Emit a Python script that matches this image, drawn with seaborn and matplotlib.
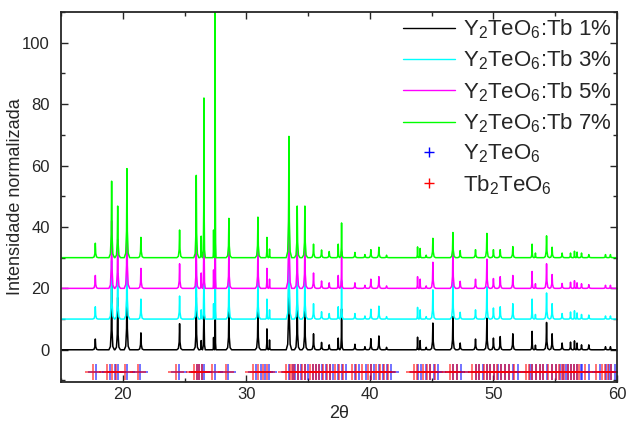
import numpy as np
import pandas as pd
import matplotlib
matplotlib.use("Agg")
import matplotlib.pyplot as plt
from matplotlib.lines import Line2D
from matplotlib.ticker import MultipleLocator
import seaborn as sns

# posiciones de los picos (2θ)
peak_pos = [17.78, 19.10, 19.59, 20.34, 21.47, 24.60, 25.95, 26.35, 26.57, 27.35,
            27.48, 28.59, 30.94, 31.67, 31.88, 33.45, 34.12, 34.74, 35.44, 36.09,
            36.71, 37.44, 37.71, 38.79, 39.60, 40.08, 40.73, 41.35, 43.86, 44.07,
            44.56, 45.10, 46.72, 47.31, 48.55, 49.47, 50.00, 50.55, 51.57, 53.13,
            53.40, 54.30, 54.75, 55.56, 56.24, 56.56, 56.77, 57.13, 57.72, 59.07,
            59.47]

# alturas de los picos (sobre la línea base) para cada muestra
h_tb1 = [3.5, 21, 17, 23, 5.5, 8.5, 17, 3, 30, 4, 45, 13.6, 13.7, 6.8, 3.2, 36, 17.3,
         14.6, 5.2, 2.4, 1.6, 3.8, 13.3, 1.8, 1.0, 3.6, 4.5, 0.8, 4.1, 3.0, 0.8, 8.7,
         10.8, 2.2, 3.5, 10.3, 3.8, 4.3, 5.2, 6.0, 1.5, 8.9, 5.2, 2.2, 2.5, 2.9, 2.2,
         1.6, 1.6, 1.0, 1.0]
h_tb3 = [4.0, 19, 15, 22, 6.5, 7.5, 18, 3, 32, 5, 50, 13.8, 13.5, 6.5, 3.0, 38, 16.5,
         15.0, 5.0, 2.4, 1.8, 4.0, 12.5, 1.8, 1.0, 3.2, 4.2, 0.8, 3.8, 3.0, 0.8, 9.5,
         12.0, 2.2, 3.0, 10.5, 3.6, 4.0, 5.0, 6.5, 1.5, 8.5, 5.0, 1.8, 2.3, 2.7, 2.0,
         1.5, 1.3, 1.0, 1.0]
h_tb5 = [4.2, 22, 16, 25, 6.5, 8.0, 14, 5, 40, 6, 65, 13.0, 13.0, 6.5, 3.0, 40, 17.0,
         15.5, 5.0, 2.4, 1.8, 4.2, 12.0, 1.8, 1.0, 3.0, 3.8, 0.8, 3.8, 3.0, 0.8, 8.5,
         12.9, 2.3, 3.0, 9.5, 3.2, 3.8, 4.2, 5.5, 1.5, 8.0, 4.5, 1.6, 2.0, 2.5, 1.8,
         1.5, 1.2, 1.0, 1.0]
h_tb7 = [4.7, 24.9, 16.8, 29, 6.6, 9.0, 26.8, 7, 52, 9, 95, 12.8, 13.2, 6.6, 2.8, 39.5, 16.8,
         16.8, 4.4, 2.5, 2.0, 4.4, 11.3, 1.7, 1.0, 2.6, 3.4, 0.8, 3.5, 3.0, 0.8, 6.3,
         8.2, 2.3, 2.6, 7.9, 2.6, 2.6, 3.6, 4.4, 1.5, 7.1, 3.4, 1.5, 1.5, 2.1, 1.8,
         1.5, 1.0, 1.0, 1.0]

samples = ["Tb 1%", "Tb 3%", "Tb 5%", "Tb 7%"]
offsets = [0, 10, 20, 30]
heights = [h_tb1, h_tb3, h_tb5, h_tb7]
colors = ["black", "cyan", "magenta", "#00ff00"]

# posiciones de las fichas de referencia
ref_y2teo6 = [17.80, 19.00, 19.37, 19.60, 20.35, 21.40, 24.55, 26.00, 26.20, 26.40, 26.60,
              27.45, 28.55, 30.80, 31.20, 31.55, 31.85, 33.45, 33.75, 33.95, 34.15,
              34.45, 34.75, 35.00, 35.40, 35.65, 35.90, 36.15, 36.45, 36.75, 37.05,
              37.45, 37.75, 38.05, 38.80, 39.10, 39.65, 40.10, 40.35, 40.75, 41.05,
              41.40, 41.70, 43.90, 44.10, 44.55, 44.85, 45.15, 45.50, 46.75, 47.05,
              47.35, 48.55, 48.85, 49.15, 49.50, 49.75, 50.05, 50.35, 50.60, 50.95,
              51.25, 51.60, 51.95, 52.95, 53.15, 53.45, 53.75, 54.05, 54.35, 54.75,
              55.05, 55.35, 55.60, 55.85, 56.05, 56.30, 56.55, 56.80, 57.05, 57.20,
              57.75, 58.60, 59.10, 59.35, 59.55, 59.85]
ref_tb2teo6 = [17.60, 18.75, 19.17, 19.45, 20.17, 21.20, 24.35, 25.80, 26.00, 26.20, 26.40,
               27.25, 28.35, 30.55, 30.95, 31.35, 31.65, 33.20, 33.50, 33.70, 33.90,
               34.20, 34.50, 34.75, 35.15, 35.40, 35.65, 35.90, 36.20, 36.50, 36.80,
               37.20, 37.50, 37.80, 38.55, 38.85, 39.40, 39.85, 40.10, 40.50, 40.80,
               41.15, 41.45, 43.60, 43.85, 44.30, 44.60, 44.90, 45.25, 46.45, 46.75,
               47.05, 48.25, 48.55, 48.85, 49.20, 49.45, 49.75, 50.05, 50.30, 50.65,
               50.95, 51.30, 51.65, 52.65, 52.85, 53.15, 53.45, 53.75, 54.05, 54.45,
               54.75, 55.05, 55.30, 55.55, 55.75, 56.00, 56.25, 56.50, 56.75, 56.90,
               57.45, 58.30, 58.80, 59.05, 59.25, 59.55]
ref_level = -7.3

# perfil de cada pico: fracción de la semianchura y fracción de la altura
prof_dx = [-1.0, -0.45, -0.15, 0.0, 0.15, 0.45, 1.0]
prof_f = [0.0, 0.05, 0.3, 1.0, 0.3, 0.05, 0.0]
max_hw = 0.22

rows = []
for name, off, hs in zip(samples, offsets, heights):
    pts = [(15.0, 0.0), (60.0, 0.0)]
    for i, (p, h) in enumerate(zip(peak_pos, hs)):
        gaps = [abs(p - q) / 2 for j, q in enumerate(peak_pos) if j != i]
        hw = min(max_hw, min(gaps))
        for dx, f in zip(prof_dx, prof_f):
            pts.append((p + dx * hw, f * h))
    pts.sort(key=lambda t: t[0])
    for x, y in pts:
        rows.append({"two_theta": x, "intensity": y + off, "sample": name})
df = pd.DataFrame(rows)

sns.set_style("ticks")
plt.rcParams["font.family"] = ["Liberation Sans", "DejaVu Sans"]
plt.rcParams["mathtext.default"] = "regular"

fig = plt.figure(figsize=(6.26, 4.23), dpi=100)
ax = fig.add_axes([0.0974, 0.0969, 0.8882, 0.8747])

sns.lineplot(data=df, x="two_theta", y="intensity", hue="sample", palette=colors,
             estimator=None, sort=False, linewidth=1.1, legend=False, ax=ax)

sns.scatterplot(x=ref_y2teo6, y=[ref_level] * len(ref_y2teo6), marker="+", color="blue",
                s=120, linewidth=1.1, alpha=0.7, ax=ax)
sns.scatterplot(x=ref_tb2teo6, y=[ref_level] * len(ref_tb2teo6), marker="+", color="red",
                s=120, linewidth=1.1, alpha=0.7, ax=ax)

ax.set_xlim(15, 60)
ax.set_ylim(-10.5, 110)
ax.xaxis.set_major_locator(MultipleLocator(10))
ax.xaxis.set_minor_locator(MultipleLocator(5))
ax.yaxis.set_major_locator(MultipleLocator(20))
ax.yaxis.set_minor_locator(MultipleLocator(10))
ax.tick_params(which="both", direction="in", top=True, right=True, labelsize=12, width=1.0)
ax.tick_params(which="major", length=5)
ax.tick_params(which="minor", length=3)
ax.tick_params(axis="y", which="major", pad=8)
for sp in ax.spines.values():
    sp.set_linewidth(1.3)
ax.set_xlabel("2θ", fontsize=13, labelpad=2)
ax.set_ylabel("Intensidade normalizada", fontsize=13, labelpad=-1)

handles = [Line2D([], [], color=c, lw=1.0) for c in colors]
labels = [f"Y$_2$TeO$_6$:{s}" for s in samples]
handles += [Line2D([], [], color="blue", marker="+", ls="none", markersize=7),
            Line2D([], [], color="red", marker="+", ls="none", markersize=7)]
labels += ["Y$_2$TeO$_6$", "Tb$_2$TeO$_6$"]
ax.legend(handles, labels, loc="upper right", frameon=False, fontsize=16,
          handlelength=2.35, labelspacing=0.345, borderaxespad=0.0, handletextpad=0.35,
          borderpad=0.25)

fig.savefig("out.png", dpi=100)
